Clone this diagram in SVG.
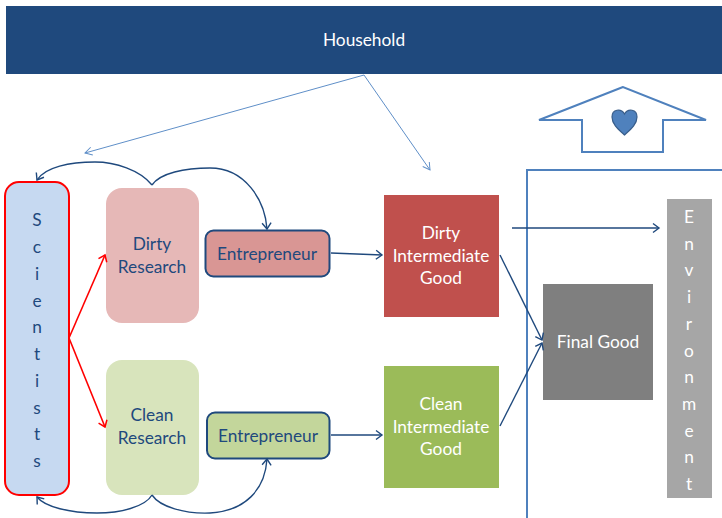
<svg xmlns="http://www.w3.org/2000/svg" width="722" height="518" viewBox="0 0 722 518">
<style>
text{font-family:Lato,"Open Sans","Liberation Sans",sans-serif;font-size:17.300px;text-anchor:middle}
.d{fill:#1f497d}.w{fill:#fff}
.c{fill:none;stroke:#1f497d;stroke-width:1.4}
.r{fill:none;stroke:#f00;stroke-width:1.6}
.l{fill:none;stroke:#5f8fc8;stroke-width:1}
</style>
<defs>
<marker id="an" markerUnits="userSpaceOnUse" markerWidth="14" markerHeight="14" refX="10" refY="7" orient="auto"><path d="M4 2.500L10 7L4 11.500" fill="none" stroke="#1f497d" stroke-width="1.4"/></marker>
<marker id="ar" markerUnits="userSpaceOnUse" markerWidth="14" markerHeight="14" refX="10" refY="7" orient="auto"><path d="M4 2.500L10 7L4 11.500" fill="none" stroke="#f00" stroke-width="1.5"/></marker>
<marker id="al" markerUnits="userSpaceOnUse" markerWidth="14" markerHeight="14" refX="10" refY="7" orient="auto"><path d="M3 3L10 7L3 11" fill="none" stroke="#5f8fc8" stroke-width="1"/></marker>
</defs>
<g id="household"><rect x="6" y="6" width="716" height="68" fill="#1f497d"/><text class="w" x="364" y="46">Household</text></g>
<g id="house"><path d="M623 87L539 120H582V152H663V120H706Z" fill="#fff" stroke="#4f81bd" stroke-width="2"/><path d="M624.500 135C618 129 612 124 612 117C612 109 621 108 624.500 114C628 108 637 109 637 117C637 124 631 129 624.500 135Z" fill="#4f81bd" stroke="#385d8a" stroke-width="1.200"/></g>
<g id="boundary"><path d="M527 518V170H722" fill="none" stroke="#4f81bd" stroke-width="2"/></g>
<g id="scientists"><rect x="5" y="182" width="64" height="313" rx="14" fill="#c6d9f1" stroke="#f00" stroke-width="2"/>
<text class="d" x="37" y="226">S</text><text class="d" x="37" y="253">c</text><text class="d" x="37" y="280">i</text><text class="d" x="37" y="307">e</text><text class="d" x="37" y="333">n</text><text class="d" x="37" y="360">t</text><text class="d" x="37" y="387">i</text><text class="d" x="37" y="414">s</text><text class="d" x="37" y="440">t</text><text class="d" x="37" y="467">s</text></g>
<g id="dirty-research"><rect x="106" y="188" width="93" height="135" rx="16" fill="#e6b8b7"/><text class="d" x="152" y="250">Dirty</text><text class="d" x="152" y="273">Research</text></g>
<g id="clean-research"><rect x="106" y="360" width="93" height="135" rx="16" fill="#d8e4bc"/><text class="d" x="152" y="421">Clean</text><text class="d" x="152" y="444">Research</text></g>
<g id="entrepreneur-dirty"><rect x="205.500" y="230.500" width="124" height="46" rx="8" fill="#d99694" stroke="#1f497d" stroke-width="2"/><text class="d" x="267" y="260">Entrepreneur</text></g>
<g id="entrepreneur-clean"><rect x="207" y="412.500" width="122.500" height="46" rx="8" fill="#c3d69b" stroke="#1f497d" stroke-width="2"/><text class="d" x="268" y="442">Entrepreneur</text></g>
<g id="dirty-intermediate"><rect x="384" y="195" width="115" height="122" fill="#c0504d"/><text class="w" x="441" y="239">Dirty</text><text class="w" x="441" y="262">Intermediate</text><text class="w" x="441" y="284">Good</text></g>
<g id="clean-intermediate"><rect x="384" y="366" width="115" height="122" fill="#9bbb59"/><text class="w" x="441" y="410">Clean</text><text class="w" x="441" y="433">Intermediate</text><text class="w" x="441" y="455">Good</text></g>
<g id="final-good"><rect x="543" y="284" width="110" height="116" fill="#7f7f7f"/><text class="w" x="598" y="348">Final Good</text></g>
<g id="environment"><rect x="667" y="199" width="45" height="299" fill="#a6a6a6"/>
<text class="w" x="689" y="223">E</text><text class="w" x="689" y="250">n</text><text class="w" x="689" y="276">v</text><text class="w" x="689" y="303">i</text><text class="w" x="689" y="330">r</text><text class="w" x="689" y="357">o</text><text class="w" x="689" y="383">n</text><text class="w" x="689" y="410">m</text><text class="w" x="689" y="437">e</text><text class="w" x="689" y="463">n</text><text class="w" x="689" y="490">t</text></g>
<g id="connectors">
<path class="l" d="M364 75L85 153" marker-end="url(#al)"/>
<path class="l" d="M364 75L430 170" marker-end="url(#al)"/>
<path class="c" d="M152 185C140 170 115 162 95 162C70 162 45 167 37 180" marker-end="url(#an)"/>
<path class="c" d="M152 185C160 173 185 168 210 168C245 168 265 200 267 229" marker-end="url(#an)"/>
<path class="c" d="M152 495C145 507 120 513 97 513C70 513 45 507 37 497" marker-end="url(#an)"/>
<path class="c" d="M152 495C160 507 185 514 210 513C245 511 265 490 267 459" marker-end="url(#an)"/>
<path class="r" d="M69 338L105 255" marker-end="url(#ar)"/>
<path class="r" d="M69 338L105 427" marker-end="url(#ar)"/>
<path class="c" d="M331 253L382 255" marker-end="url(#an)"/>
<path class="c" d="M331 435L382 435" marker-end="url(#an)"/>
<path class="c" d="M500 255L542 340" marker-end="url(#an)"/>
<path class="c" d="M500 426L542 343" marker-end="url(#an)"/>
<path class="c" d="M512 228L659 228" marker-end="url(#an)"/>
</g>
</svg>
